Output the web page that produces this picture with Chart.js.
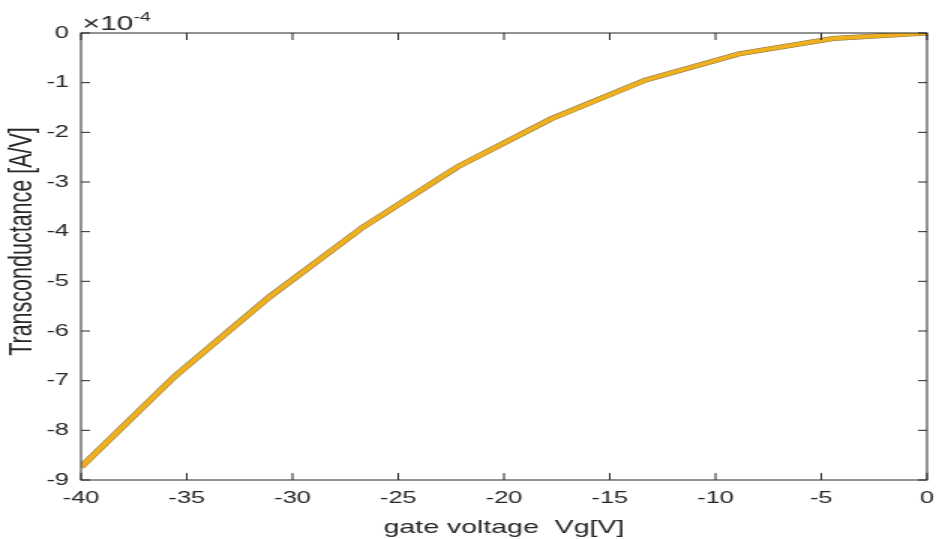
<!DOCTYPE html>
<html><head><meta charset="utf-8">
<script src="https://cdn.jsdelivr.net/npm/chart.js@4"></script>
<style>html,body{margin:0;padding:0;background:#fff;overflow:hidden}</style></head>
<body><canvas id="c" width="624" height="539" style="display:block;width:936px;height:539px"></canvas>
<script>
// Data (transconductance in units of 1e-4 A/V)
const gateVoltage = [-40, -35.56, -31.11, -26.67, -22.22, -17.78, -13.33, -8.89, -4.44, 0];
const transconductance = [-8.74, -6.91, -5.32, -3.91, -2.70, -1.73, -0.95, -0.42, -0.11, 0];
const xTicks = [-40, -35, -30, -25, -20, -15, -10, -5, 0];
const yTicks = [-9, -8, -7, -6, -5, -4, -3, -2, -1, 0];
const yMultiplierBase = '\u00D710';
const yMultiplierExp = '-4';
const xTitle = 'gate voltage  Vg[V]';
const yTitle = 'Transconductance [A/V]';

const FONT = "'Liberation Sans', Arial, Helvetica, sans-serif";
const INK = '#262626';

const pts = gateVoltage.map((x, i) => ({x: x, y: transconductance[i]}));

const matlabAxes = {
  id: 'matlabAxes',
  afterDraw(chart) {
    const {ctx, chartArea: a, scales} = chart;
    ctx.save();
    ctx.strokeStyle = INK;
    ctx.lineWidth = 1;
    ctx.strokeRect(a.left, a.top, a.right - a.left, a.bottom - a.top);
    ctx.beginPath();
    xTicks.forEach(v => {
      const px = scales.x.getPixelForValue(v);
      ctx.moveTo(px, a.bottom); ctx.lineTo(px, a.bottom - 7);
      ctx.moveTo(px, a.top); ctx.lineTo(px, a.top + 7);
    });
    yTicks.forEach(v => {
      const py = scales.y.getPixelForValue(v);
      ctx.moveTo(a.left, py); ctx.lineTo(a.left + 6, py);
      ctx.moveTo(a.right, py); ctx.lineTo(a.right - 6, py);
    });
    ctx.stroke();
    ctx.fillStyle = INK;
    // exponent label
    ctx.textBaseline = 'alphabetic';
    ctx.textAlign = 'left';
    ctx.font = '20px ' + FONT;
    const bx = a.left + 1, by = a.top - 3;
    ctx.fillText(yMultiplierBase, bx, by);
    const w = ctx.measureText(yMultiplierBase).width;
    ctx.font = '13px ' + FONT;
    ctx.fillText(yMultiplierExp, bx + w, by - 9);
    // y-axis title
    ctx.translate(15, (a.top + a.bottom) / 2 - 15);
    ctx.rotate(-Math.PI / 2);
    ctx.textAlign = 'center';
    ctx.textBaseline = 'middle';
    ctx.font = '21.5px ' + FONT;
    ctx.fillText(yTitle, 0, 0);
    ctx.restore();
  }
};

new Chart(document.getElementById('c'), {
  type: 'line',
  data: {
    datasets: [
      {data: pts, borderColor: '#EDB120', borderWidth: 4, pointRadius: 0, tension: 0, fill: false},
      {data: pts, borderColor: '#8a6d42', borderWidth: 5, pointRadius: 0, tension: 0, fill: false}
    ]
  },
  options: {
    responsive: false,
    devicePixelRatio: 1,
    animation: false,
    events: [],
    layout: {padding: {top: 33, right: 6, bottom: 0, left: 0}},
    plugins: {legend: {display: false}, tooltip: {enabled: false}},
    scales: {
      x: {
        type: 'linear', min: -40, max: 0,
        afterBuildTicks: s => { s.ticks = xTicks.map(v => ({value: v})); },
        afterFit: s => { s.height = 59; },
        grid: {display: false, drawTicks: true, tickLength: 7},
        border: {display: false},
        ticks: {color: INK, font: {family: FONT, size: 17}, padding: 1, maxRotation: 0, autoSkip: false},
        title: {display: true, text: xTitle, color: INK, font: {family: FONT, size: 19}, padding: {top: 4, bottom: 0}}
      },
      y: {
        type: 'linear', min: -9, max: 0,
        afterBuildTicks: s => { s.ticks = yTicks.map(v => ({value: v})); },
        afterFit: s => { s.width = 54; },
        grid: {display: false, drawTicks: false},
        border: {display: false},
        ticks: {color: INK, font: {family: FONT, size: 17}, padding: 8, autoSkip: false},
        title: {display: false}
      }
    }
  },
  plugins: [matlabAxes]
});
</script>
</body></html>
